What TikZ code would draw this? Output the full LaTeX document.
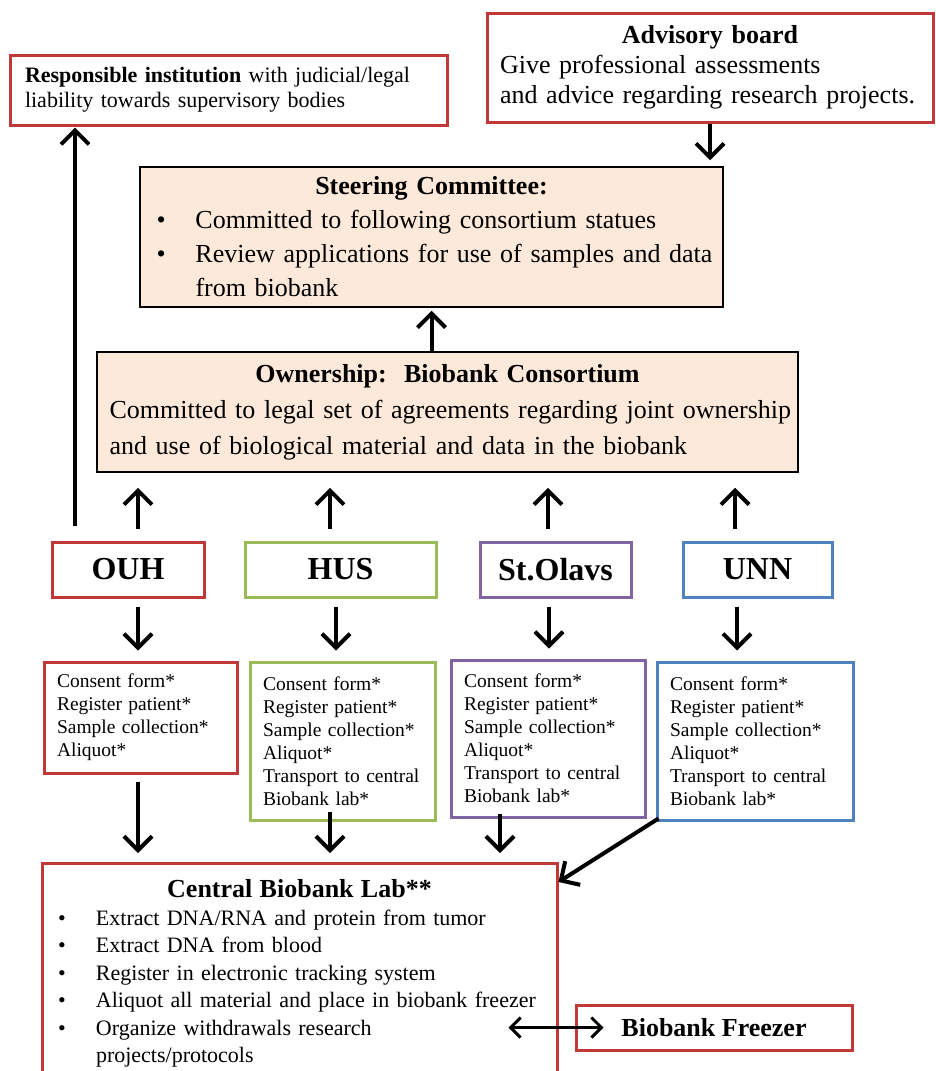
\documentclass[tikz,border=0pt]{standalone}
\usepackage{fontspec}
\setmainfont{Liberation Serif}
\usetikzlibrary{arrows.meta}

\definecolor{boxred}{RGB}{192,57,56}
\definecolor{boxgreen}{RGB}{155,187,89}
\definecolor{boxpurple}{RGB}{128,100,162}
\definecolor{boxblue}{RGB}{79,129,189}
\definecolor{peach}{RGB}{253,233,217}

\begin{document}
\begin{tikzpicture}[x=1pt,y=-1pt,
  frame box/.style={draw=boxred,line width=3pt,inner xsep=13pt,align=left},
  peach box/.style={draw=black,fill=peach,line width=1.5pt,align=left,font=\fontsize{26pt}{34pt}\selectfont},
  hosp box/.style={line width=3pt,minimum height=55pt,font=\fontsize{32pt}{36pt}\selectfont\bfseries},
  proc box/.style={line width=3pt,inner xsep=13pt,align=left,font=\fontsize{19.5pt}{23pt}\selectfont},
  up arrow/.style={line width=4pt,-{Straight Barb[length=14pt,width=28pt]}},
  both arrow/.style={line width=3pt,{Straight Barb[length=10pt,width=20pt]}-{Straight Barb[length=10pt,width=20pt]}}]

\useasboundingbox (0,0) rectangle (935,1071);
\clip (0,0) rectangle (935,1071);

\node[frame box,minimum width=437pt,minimum height=70pt,text width=407pt,font=\fontsize{22pt}{25pt}\selectfont] (resp) at (228.5,90) {\textbf{Responsible institution} with judicial/legal\\liability towards supervisory bodies};
\node[frame box,minimum width=446pt,minimum height=109pt,text width=420pt,font=\fontsize{26pt}{30pt}\selectfont] (adv) at (710,67.5) {\makebox[\linewidth]{\textbf{Advisory board}}\\Give professional assessments\\and advice regarding research projects.};

\node[peach box,minimum width=583pt,minimum height=140pt,text width=550pt] (steer) at (431.5,237) {\makebox[\linewidth]{\textbf{Steering Committee:}}\\
\mbox{\makebox[39pt][l]{\textbullet}Committed to following consortium statues}\\
\mbox{\makebox[39pt][l]{\textbullet}Review applications for use of samples and data}\\
\hspace*{39pt}from biobank};
\node[peach box,minimum width=701pt,minimum height=120pt,text width=676pt,font=\fontsize{26pt}{36pt}\selectfont] (own) at (447.5,412) {\makebox[\linewidth]{\textbf{Ownership:\ \ Biobank Consortium}}\\\mbox{Committed to legal set of agreements regarding joint ownership}\\\mbox{and use of biological material and data in the biobank}};

\node[hosp box,draw=boxred,minimum width=152pt] (ouh) at (128,569.5) {OUH};
\node[hosp box,draw=boxgreen,minimum width=191pt] (hus) at (340.5,569.5) {HUS};
\node[hosp box,draw=boxpurple,minimum width=151pt] (st) at (555.5,569.5) {St.Olavs};
\node[hosp box,draw=boxblue,minimum width=149pt] (unn) at (757.5,569.5) {UNN};

\node[proc box,draw=boxred,text width=167pt,minimum height=111pt] (pouh) at (140.5,717.5) {Consent form*\\Register patient*\\Sample collection*\\Aliquot*};
\node[proc box,draw=boxgreen,text width=159pt,minimum height=158pt] (phus) at (342.5,741) {Consent form*\\Register patient*\\Sample collection*\\Aliquot*\\Transport to central\\Biobank lab*};
\node[proc box,draw=boxpurple,text width=168pt,minimum height=157pt] (pst) at (548,738.5) {Consent form*\\Register patient*\\Sample collection*\\Aliquot*\\Transport to central\\Biobank lab*};
\node[proc box,draw=boxblue,text width=170pt,minimum height=158pt] (punn) at (755,741) {Consent form*\\Register patient*\\Sample collection*\\Aliquot*\\Transport to central\\Biobank lab*};

\node[frame box,anchor=north,text width=483pt,inner xsep=16pt,inner ysep=16pt,font=\fontsize{22pt}{27.5pt}\selectfont] (cent) at (299.5,862) {\makebox[\linewidth]{\fontsize{26pt}{30pt}\selectfont\textbf{Central Biobank Lab**}}\\
\makebox[38pt][l]{\textbullet}Extract DNA/RNA and protein from tumor\\
\makebox[38pt][l]{\textbullet}Extract DNA from blood\\
\makebox[38pt][l]{\textbullet}Register in electronic tracking system\\
\mbox{\makebox[38pt][l]{\textbullet}Aliquot all material and place in biobank freezer}\\
\makebox[38pt][l]{\textbullet}Organize withdrawals research\\
\hspace*{38pt}projects/protocols};
\node[frame box,minimum width=276pt,minimum height=45pt,font=\fontsize{26pt}{30pt}\selectfont\bfseries] (frz) at (714,1027.5) {Biobank Freezer};

\coordinate (r1) at ([xshift=-53pt,yshift=15pt]ouh.north);
\coordinate (u1) at ([xshift=10pt,yshift=12pt]ouh.north);
\coordinate (u2) at ([xshift=-10.5pt,yshift=12pt]hus.north);
\coordinate (u3) at ([xshift=-7.5pt,yshift=12pt]st.north);
\coordinate (u4) at ([xshift=-22.5pt,yshift=12pt]unn.north);
\coordinate (d1) at ([xshift=10pt,yshift=-8pt]ouh.south);
\coordinate (d2) at ([xshift=-4.5pt,yshift=-8pt]hus.south);
\coordinate (d3) at ([xshift=-6.5pt,yshift=-8pt]st.south);
\coordinate (d4) at ([xshift=-20.5pt,yshift=-8pt]unn.south);
\coordinate (c1) at ([xshift=-2.5pt,yshift=-7pt]pouh.south);
\coordinate (c2) at ([xshift=-12.5pt,yshift=10pt]phus.south);
\coordinate (c3) at ([xshift=-48pt,yshift=5pt]pst.south);
\coordinate (c4) at ([xshift=3pt,yshift=3pt]punn.south west);
\coordinate (c5) at ([yshift=-20pt]cent.north east);
\coordinate (fl) at ([xshift=-66pt]frz.west);
\coordinate (fr) at ([xshift=29pt]frz.west);

\path[] (adv.south) [up arrow,shorten >=6pt] edge node [] {} (adv.south |- steer.north);
\path[] (steer.south |- own.north) [up arrow,shorten >=3pt] edge node [] {} (steer.south);
\path[] (r1) [up arrow,shorten >=1pt] edge node [] {} (r1 |- resp.south);
\path[] (u1) [up arrow,shorten >=15pt] edge node [] {} (u1 |- own.south);
\path[] (u2) [up arrow,shorten >=15pt] edge node [] {} (u2 |- own.south);
\path[] (u3) [up arrow,shorten >=15pt] edge node [] {} (u3 |- own.south);
\path[] (u4) [up arrow,shorten >=15pt] edge node [] {} (u4 |- own.south);
\path[] (d1) [up arrow,shorten >=10pt] edge node [] {} (d1 |- pouh.north);
\path[] (d2) [up arrow,shorten >=10pt] edge node [] {} (d2 |- phus.north);
\path[] (d3) [up arrow,shorten >=10pt] edge node [] {} (d3 |- pst.north);
\path[] (d4) [up arrow,shorten >=10pt] edge node [] {} (d4 |- punn.north);
\path[] (c1) [up arrow,shorten >=9pt] edge node [] {} (c1 |- cent.north);
\path[] (c2) [up arrow,shorten >=9pt] edge node [] {} (c2 |- cent.north);
\path[] (c3) [up arrow,shorten >=9pt] edge node [] {} (c3 |- cent.north);
\path[] (c4) [up arrow] edge node [] {} (c5);
\path[] (fl) [both arrow] edge node [] {} (fr);

\end{tikzpicture}
\end{document}
